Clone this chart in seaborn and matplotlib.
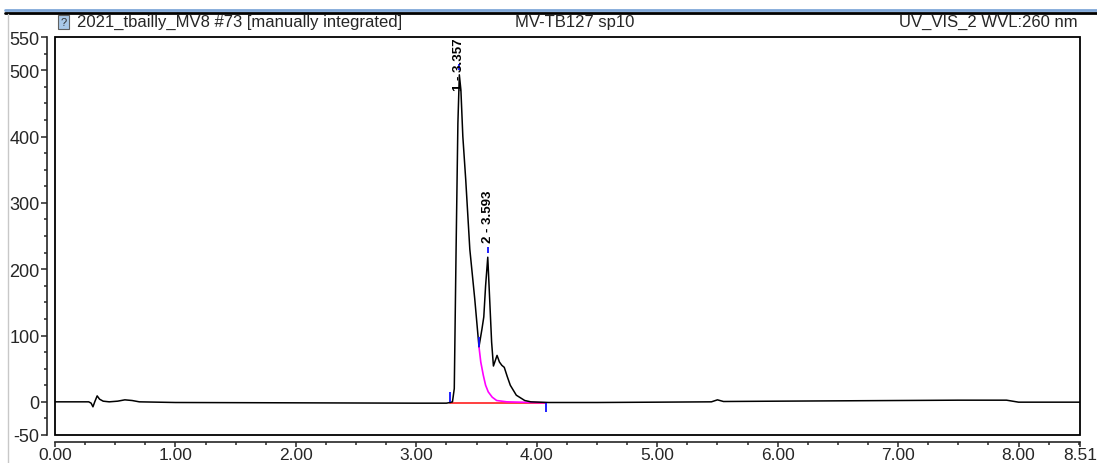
import numpy as np
import pandas as pd
import seaborn as sns
import matplotlib.pyplot as plt
from matplotlib.patches import Rectangle
from matplotlib.lines import Line2D

# chromatogram trace (time in min, signal in mAU)
time = [0.00, 0.28, 0.30, 0.315, 0.33, 0.35, 0.37, 0.40, 0.45, 0.52, 0.58, 0.64, 0.70,
        1.00, 2.00, 3.00, 3.25, 3.28, 3.30, 3.315, 3.33, 3.345, 3.357, 3.37, 3.386,
        3.41, 3.444, 3.485, 3.52, 3.545, 3.56, 3.575, 3.593, 3.61, 3.625, 3.64, 3.655,
        3.67, 3.69, 3.71, 3.73, 3.755, 3.78, 3.83, 3.90, 3.95, 4.10, 4.50, 5.00, 5.45,
        5.50, 5.55, 6.00, 7.00, 7.50, 7.90, 8.00, 8.51]
signal = [0, 0, -2, -7.5, 0, 9, 4, 1, 0, 1, 3, 2, 0,
          -1, -1.5, -2, -2, -1, 0, 20, 230, 420, 493, 470, 400,
          335, 230, 155, 83, 110, 128, 175, 218, 150, 90, 54, 62,
          70, 60, 55, 52, 38, 25, 10, 2, 0, -1, -1, -0.5, 0,
          3, 0.5, 1, 2, 2.5, 2.5, -0.5, -0.5]

# peak 1 tail (skimmed) and integration baseline
tail_time = [3.52, 3.535, 3.556, 3.575, 3.597, 3.63, 3.667, 3.75, 4.08]
tail_signal = [83, 60, 40, 25, 15, 7, 2, 0, -1.5]
base_time = [3.28, 4.08]
base_signal = [-1.5, -1.5]

# peaks
peak_rt = [3.357, 3.593]
peak_height = [493, 218]
peak_names = ["1 - 3.357", "2 - 3.593"]
label_y = [470, 241]
# integration delimiters (time, level)
delim_time = [3.28, 3.52, 4.08]
delim_level = [0, 83, -2]

x_ticks = [0, 1, 2, 3, 4, 5, 6, 7, 8, 8.51]
x_labels = ["0.00", "1.00", "2.00", "3.00", "4.00", "5.00", "6.00", "7.00", "8.00", "8.51"]
y_ticks = [-50, 0, 100, 200, 300, 400, 500, 550]

sns.set_style("ticks")
plt.rcParams['font.family'] = ['Liberation Sans', 'DejaVu Sans']
plt.rcParams['axes.unicode_minus'] = False

fig = plt.figure(figsize=(10.97, 4.64), dpi=100)
ax = fig.add_axes([55 / 1097, 1 - 436 / 464, 1025 / 1097, 398 / 464])

trace = pd.DataFrame({"time": time, "signal": signal})
tail = pd.DataFrame({"time": tail_time, "signal": tail_signal})
base = pd.DataFrame({"time": base_time, "signal": base_signal})

sns.lineplot(data=base, x="time", y="signal", color="#ff3030", lw=1.3, ax=ax, sort=False)
sns.lineplot(data=tail, x="time", y="signal", color="#ff00ff", lw=1.2, ax=ax, sort=False)
sns.lineplot(data=trace, x="time", y="signal", color="black", lw=1.1, ax=ax, sort=False)

# blue delimiter ticks
for t, lv in zip(delim_time, delim_level):
    if lv < 0:
        ax.vlines(t, lv - 14, lv, color="#1010ff", lw=1.3)
    else:
        ax.vlines(t, lv, lv + 15, color="#1010ff", lw=1.3)
for t, h in zip(peak_rt, peak_height):
    ax.vlines(t, h + 7, h + 16, color="#1010ff", lw=1.3)

# peak labels
for t, ly, name in zip(peak_rt, label_y, peak_names):
    ax.text(t, ly, name, rotation=90, ha="center", va="bottom",
            fontsize=9.5, fontweight="bold", color="black")

ax.set_xlim(0, 8.51)
ax.set_ylim(-50, 550)
ax.set_xlabel("")
ax.set_ylabel("")
ax.set_xticks(x_ticks)
ax.set_xticklabels(x_labels)
ax.set_xticks(np.arange(0, 8.51, 0.25), minor=True)
ax.set_yticks(y_ticks)
ax.set_yticks(np.arange(-50, 551, 25), minor=True)
ax.tick_params(which="major", length=4, width=1.1, labelsize=13, direction="out", pad=1)
ax.tick_params(axis="x", which="major", length=3.5, labelsize=12.5, pad=0)
ax.tick_params(which="minor", length=2.5, width=1.1, direction="out")

for s in ["top", "right"]:
    ax.spines[s].set_visible(False)
ax.spines["left"].set_position(("outward", 6))
ax.spines["bottom"].set_position(("outward", 5))
for s in ["left", "bottom"]:
    ax.spines[s].set_linewidth(1.2)
ax.add_patch(Rectangle((0, 0), 1, 1, transform=ax.transAxes, fill=False,
                       lw=1.3, ec="black", clip_on=False, zorder=5))

# header bar
fig.add_artist(Line2D([5 / 1097, 1], [1 - 11 / 464] * 2, color="#7fa7d8", lw=2))
fig.add_artist(Line2D([5 / 1097, 1], [1 - 13.5 / 464] * 2, color="black", lw=2))
fig.add_artist(Line2D([7.5 / 1097] * 2, [0, 1 - 15 / 464], color="#c8c8c8", lw=1))
fig.add_artist(Rectangle((58 / 1097, 1 - 30 / 464), 11 / 1097, 14 / 464,
                         transform=fig.transFigure, fc="#a9c8e8", ec="#606060", lw=0.8))
fig.text(63.5 / 1097, 1 - 23 / 464, "?", fontsize=8, ha="center", va="center", color="#303030")
fig.text(77 / 1097, 1 - 22 / 464, "2021_tbailly_MV8 #73 [manually integrated]",
         fontsize=12, ha="left", va="center")
fig.text(575 / 1097, 1 - 22 / 464, "MV-TB127 sp10", fontsize=12, ha="center", va="center")
fig.text(1078 / 1097, 1 - 22 / 464, "UV_VIS_2 WVL:260 nm", fontsize=12, ha="right", va="center")

fig.savefig("out.png", dpi=100)
